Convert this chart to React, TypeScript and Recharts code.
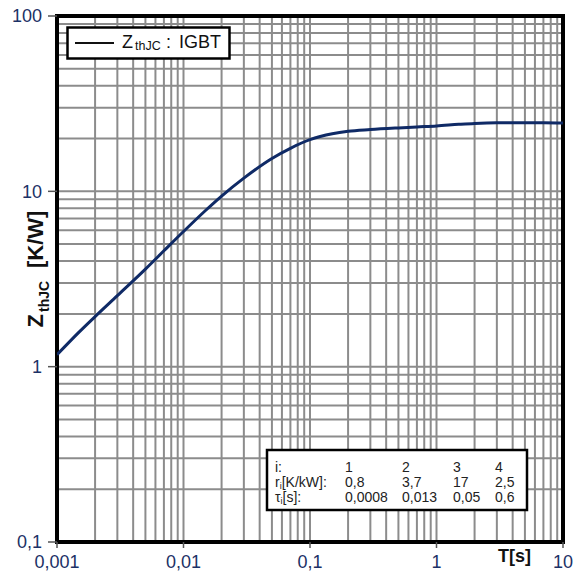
import React from "react";
import { LineChart, Line, XAxis, YAxis, CartesianGrid, ReferenceArea } from "recharts";

// time points [s]
const times = [0.001, 0.0015, 0.002, 0.003, 0.005, 0.007, 0.01, 0.015, 0.02, 0.03, 0.05, 0.07, 0.1, 0.15, 0.2, 0.3, 0.5, 0.7, 1, 1.5, 2, 3, 5, 7, 10];
// Zth,JC values
const zthIgbt = [1.17, 1.58, 1.93, 2.54, 3.6, 4.58, 5.9, 7.8, 9.4, 11.9, 15.4, 17.6, 19.7, 21.3, 22.0, 22.5, 23.0, 23.3, 23.6, 24.1, 24.4, 24.6, 24.6, 24.6, 24.5];

const xTicks = [0.001, 0.01, 0.1, 1, 10];
const yTicks = [0.1, 1, 10, 100];

const xGrid = [
  0.001, 0.002, 0.003, 0.004, 0.005, 0.006, 0.007, 0.008, 0.009,
  0.01, 0.02, 0.03, 0.04, 0.05, 0.06, 0.07, 0.08, 0.09,
  0.1, 0.2, 0.3, 0.4, 0.5, 0.6, 0.7, 0.8, 0.9,
  1, 2, 3, 4, 5, 6, 7, 8, 9, 10,
];
const yGrid = [
  0.1, 0.2, 0.3, 0.4, 0.5, 0.6, 0.7, 0.8, 0.9,
  1, 2, 3, 4, 5, 6, 7, 8, 9,
  10, 20, 30, 40, 50, 60, 70, 80, 90, 100,
];

const seriesName = "IGBT";
const tableIndex = ["1", "2", "3", "4"];
const tableR = ["0,8", "3,7", "17", "2,5"];
const tableTau = ["0,0008", "0,013", "0,05", "0,6"];

const data = times.map((t, i) => ({ t, z: zthIgbt[i] }));

const FONT = "'Liberation Sans', Arial, sans-serif";
const TICK_COLOR = "#1c3166";
const fmt = (v: number) => String(v).replace(".", ",");

const tableCols = [345, 402, 453, 495];
const tableRows = [472, 487, 502];

export default function App() {
  return (
    <div style={{ position: "absolute", left: 0, top: 0, width: 573, height: 574, background: "#fff" }}>
      <LineChart width={573} height={574} data={data} margin={{ top: 16, right: 10, bottom: 0, left: 0 }}>
        <CartesianGrid
          stroke="#8c8c8c"
          strokeWidth={2}
          verticalValues={xGrid}
          horizontalValues={yGrid}
        />
        <XAxis
          dataKey="t"
          type="number"
          scale="log"
          domain={[0.001, 10]}
          ticks={xTicks}
          interval={0}
          allowDataOverflow
          height={32}
          tickSize={6}
          tickMargin={7}
          axisLine={false}
          tickLine={{ stroke: "#555", strokeWidth: 1.5 }}
          tick={{ fontSize: 18, fill: TICK_COLOR, fontFamily: FONT }}
          tickFormatter={fmt}
        />
        <YAxis
          type="number"
          scale="log"
          domain={[0.1, 100]}
          ticks={yTicks}
          interval={0}
          allowDataOverflow
          width={57}
          tickSize={9}
          tickMargin={6}
          axisLine={false}
          tickLine={{ stroke: "#555", strokeWidth: 1.5 }}
          tick={{ fontSize: 18, fill: TICK_COLOR, fontFamily: FONT }}
          tickFormatter={fmt}
        />
        <Line
          type="monotone"
          dataKey="z"
          stroke="#0f2a66"
          strokeWidth={3}
          dot={false}
          isAnimationActive={false}
        />
        <ReferenceArea x1={0.001} x2={10} y1={0.1} y2={100} fill="none" stroke="#000" strokeWidth={4} ifOverflow="visible" />
      </LineChart>
      <svg
        width={573}
        height={574}
        style={{ position: "absolute", left: 0, top: 0, pointerEvents: "none" }}
        fontFamily={FONT}
      >
        {/* legend */}
        <rect x={67.5} y={27.5} width={162} height={31} fill="#fff" stroke="#000" strokeWidth={2.5} />
        <line x1={75} x2={114} y1={43} y2={43} stroke="#111" strokeWidth={2} />
        <text x={122} y={48} fontSize={18} fill="#111">Z</text>
        <text x={135} y={50} fontSize={12.5} fill="#111">thJC</text>
        <text x={166} y={48} fontSize={18} fill="#111">:</text>
        <text x={179} y={48} fontSize={18} fill="#111">{seriesName}</text>

        {/* parameter table */}
        <rect x={267} y={450} width={260} height={60} fill="#fff" stroke="#000" strokeWidth={2.5} />
        <text x={275} y={tableRows[0]} fontSize={14} fill="#222">i:</text>
        <text x={275} y={tableRows[1]} fontSize={14} fill="#222">
          r<tspan fontSize={9} dy={2}>i</tspan><tspan dy={-2}>[K/kW]:</tspan>
        </text>
        <text x={275} y={tableRows[2]} fontSize={14} fill="#222">
          τ<tspan fontSize={9} dy={2}>i</tspan><tspan dy={-2}>[s]:</tspan>
        </text>
        {tableIndex.map((v, i) => (
          <text key={"i" + i} x={tableCols[i]} y={tableRows[0]} fontSize={14} fill="#222">{v}</text>
        ))}
        {tableR.map((v, i) => (
          <text key={"r" + i} x={tableCols[i]} y={tableRows[1]} fontSize={14} fill="#222">{v}</text>
        ))}
        {tableTau.map((v, i) => (
          <text key={"t" + i} x={tableCols[i]} y={tableRows[2]} fontSize={14} fill="#222">{v}</text>
        ))}

        {/* axis titles */}
        <g transform="translate(43,337) rotate(-90)" fontWeight="bold" fill="#111">
          <text x={23} y={0} fontSize={22} textAnchor="end">Z</text>
          <text x={25} y={6} fontSize={14}>thJC</text>
          <text x={69} y={0} fontSize={22}>[K/W]</text>
        </g>
        <text x={498} y={562} fontSize={18} fontWeight="bold" fill="#111">T[s]</text>
      </svg>
    </div>
  );
}
